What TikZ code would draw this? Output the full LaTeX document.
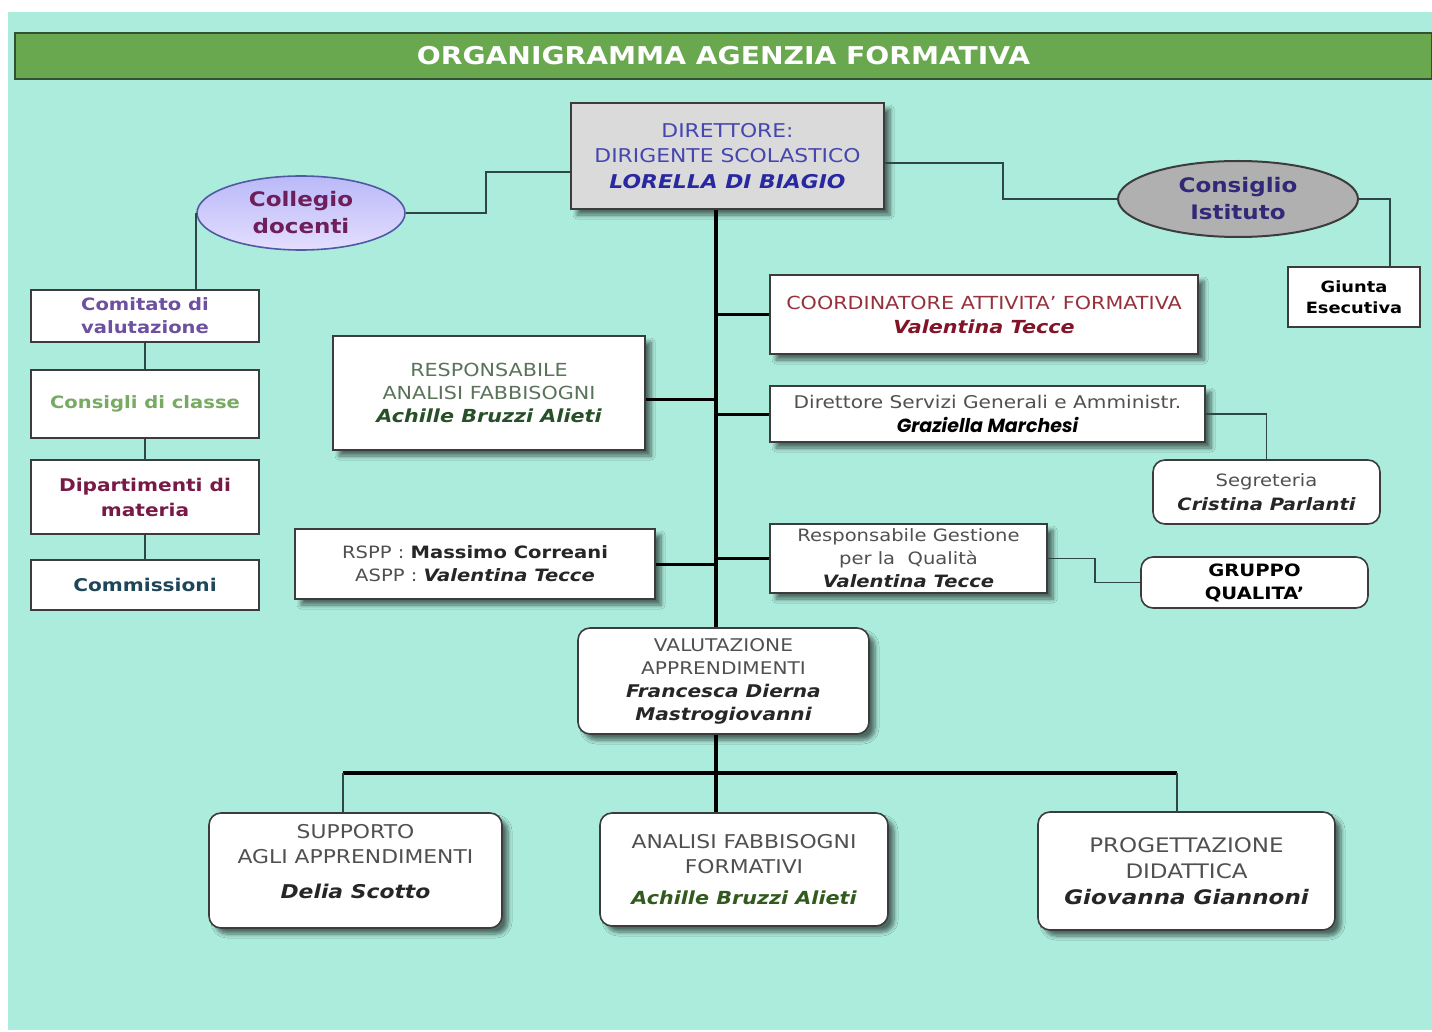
\documentclass[tikz,border=0pt]{standalone}
\usepackage{fontspec}
\setmainfont{DejaVu Sans}[FakeStretch=1.15]
\newfontfamily\popp{Poppins}
\usetikzlibrary{shadows,shadows.blur,calc,shapes.geometric}
\definecolor{bgc}{RGB}{172,236,220}
\definecolor{titlegreen}{RGB}{106,168,79}
\definecolor{titleline}{RGB}{50,80,50}
\definecolor{dirfill}{RGB}{218,218,218}
\definecolor{dirblue}{RGB}{70,70,175}
\definecolor{dirname}{RGB}{40,40,160}
\definecolor{coltop}{RGB}{185,185,248}
\definecolor{colbot}{RGB}{228,222,255}
\definecolor{colline}{RGB}{80,90,160}
\definecolor{colpurple}{RGB}{110,30,90}
\definecolor{consfill}{RGB}{176,176,176}
\definecolor{constext}{RGB}{50,40,120}
\definecolor{comtext}{RGB}{110,80,160}
\definecolor{cdctext}{RGB}{120,170,100}
\definecolor{diptext}{RGB}{120,25,70}
\definecolor{cmstext}{RGB}{30,70,90}
\definecolor{anatext}{RGB}{90,115,90}
\definecolor{ananame}{RGB}{40,80,40}
\definecolor{coordtext}{RGB}{150,50,60}
\definecolor{coordname}{RGB}{130,20,40}
\definecolor{txtgray}{RGB}{80,80,80}
\definecolor{boxline}{RGB}{60,60,60}
\definecolor{lineg}{RGB}{45,70,70}
\definecolor{greenname}{RGB}{50,90,30}
\newcommand{\fsz}[2]{\fontsize{#1}{#2}\selectfont}
\newcommand{\bi}{\bfseries\itshape}
\begin{document}
\begin{tikzpicture}[x=1pt,y=-1pt,
  box/.style={draw=boxline, line width=1.6pt, fill=white, inner sep=0pt, align=center, text=txtgray},
  rbox/.style={box, rounded corners=12pt},
  shd/.style={blur shadow={shadow xshift=6pt,shadow yshift=-6pt,shadow blur radius=4pt,shadow blur steps=6,shadow opacity=55}},
  conn/.style={draw=lineg, line width=1.8pt},
  spine/.style={draw=black, line width=4pt},
  branch/.style={draw=black, line width=3pt}]
\useasboundingbox (0,0) rectangle (1432,1032);
\fill[white] (0,0) rectangle (1432,1032);
\fill[bgc] (8,12) rectangle (1432,1030);

\node[draw=titleline, line width=2pt, fill=titlegreen, minimum width=1417pt, minimum height=46pt, inner sep=0pt, text=white, font=\bfseries\fsz{24.5}{28}] (title) at (723.5,56) {ORGANIGRAMMA AGENZIA FORMATIVA};

\node[box, fill=dirfill, shd, minimum width=313pt, minimum height=106pt, text=dirblue, font=\fsz{19}{25.5}] (dir) at (727.5,156) {DIRETTORE:\\DIRIGENTE SCOLASTICO\\{\color{dirname}\bi LORELLA DI BIAGIO}};

\node[ellipse, draw=colline, line width=1.6pt, top color=coltop, bottom color=colbot, minimum width=208pt, minimum height=74pt, inner sep=0pt, align=center, text=colpurple, font=\bfseries\fsz{20}{27}] (col) at (301,213) {Collegio\\docenti};

\node[ellipse, draw=boxline, line width=2pt, fill=consfill, minimum width=240pt, minimum height=76pt, inner sep=0pt, align=center, text=constext, font=\bfseries\fsz{20}{27}] (cons) at (1238,199) {Consiglio\\Istituto};

\node[box, minimum width=132pt, minimum height=60pt, text=black, font=\bfseries\fsz{15.5}{21}] (giu) at (1354,297) {Giunta\\Esecutiva};

\node[box, minimum width=228pt, minimum height=52pt, text=comtext, font=\bfseries\fsz{17}{23}] (com) at (145,316) {Comitato di\\valutazione};
\node[box, minimum width=228pt, minimum height=68pt, text=cdctext, font=\bfseries\fsz{17}{23}] (cdc) at (145,404) {Consigli di classe};
\node[box, minimum width=228pt, minimum height=74pt, text=diptext, font=\bfseries\fsz{17.5}{25}] (dip) at (145,497) {Dipartimenti di\\materia};
\node[box, minimum width=228pt, minimum height=50pt, text=cmstext, font=\bfseries\fsz{17.5}{23}] (cms) at (145,585) {Commissioni};

\node[box, shd, minimum width=312pt, minimum height=114pt, text=anatext, font=\fsz{18}{23}] (ana) at (489,393) {RESPONSABILE\\ANALISI FABBISOGNI\\{\color{ananame}\bi Achille Bruzzi Alieti}};

\node[box, shd, minimum width=360pt, minimum height=70pt, text=txtgray, font=\fsz{17}{23}] (rspp) at (475,564) {RSPP : {\color{black!85}\bfseries Massimo Correani}\\ASPP : {\color{black!85}\bi Valentina Tecce}};

\node[box, shd, minimum width=428pt, minimum height=79pt, text=coordtext, font=\fsz{18}{24}] (coord) at (984,314.5) {COORDINATORE ATTIVITA’ FORMATIVA\\{\color{coordname}\bi Valentina Tecce}};

\node[box, shd, minimum width=435pt, minimum height=56pt, text=txtgray, font=\fsz{17.5}{24}] (dsg) at (987.5,414) {Direttore Servizi Generali e Amministr.\\{\color{black}\popp\fsz{19}{24}\bfseries\itshape Graziella Marchesi}};

\node[rbox, minimum width=227pt, minimum height=64pt, font=\fsz{17}{24}] (seg) at (1266.5,492) {Segreteria\\{\color{black!85}\bi Cristina Parlanti}};

\node[box, shd, minimum width=277pt, minimum height=69pt, font=\fsz{17}{23}] (rgq) at (908.5,558.5) {Responsabile Gestione\\per la~ Qualità\\{\color{black!85}\bi Valentina Tecce}};

\node[rbox, minimum width=227pt, minimum height=51pt, text=black, font=\bfseries\fsz{17}{23}] (gq) at (1254.5,582.5) {GRUPPO\\QUALITA’};

\node[rbox, shd, minimum width=291pt, minimum height=106pt, font=\fsz{17.5}{23}] (val) at (723.5,681) {VALUTAZIONE\\APPRENDIMENTI\\{\color{black!85}\bi Francesca Dierna}\\{\color{black!85}\bi Mastrogiovanni}};

\node[rbox, shd, minimum width=293pt, minimum height=115pt, font=\fsz{19}{25}] (sup) at (355.5,870.5) {SUPPORTO\\AGLI APPRENDIMENTI\\[10pt]{\color{black!85}\bi Delia Scotto}\\[-6pt]\mbox{}};

\node[rbox, shd, minimum width=288pt, minimum height=113pt, font=\fsz{19}{25}] (ana2) at (744,869.5) {ANALISI FABBISOGNI\\FORMATIVI\\[6pt]{\color{greenname}\fsz{18}{25}\bi Achille Bruzzi Alieti}};

\node[rbox, shd, minimum width=297pt, minimum height=118pt, font=\fsz{20}{26}] (prog) at (1186.5,871) {PROGETTAZIONE\\DIDATTICA\\{\color{black!85}\bi Giovanna Giannoni}};

% connectors
\coordinate (sp) at (716,0);
\coordinate (barL) at (343,773);
\coordinate (barR) at (1177,773);
\draw[spine] (dir.south -| sp) -- (val.north -| sp);
\draw[spine] (val.south -| sp) -- (sp |- barL);
\draw[spine] (barL) -- (barR);
\draw[spine] (sp |- barL) -- (ana2.north -| sp);
\draw[conn] (barL) -- (barL |- sup.north);
\draw[conn] (barR) -- (barR |- prog.north);

\coordinate (anaE) at ([yshift=-6pt]ana.east);
\draw[branch] (coord.west) -- (coord.west -| sp);
\draw[branch] (anaE) -- (anaE -| sp);
\draw[branch] (dsg.west) -- (dsg.west -| sp);
\draw[branch] (rspp.east) -- (rspp.east -| sp);
\draw[branch] (rgq.west) -- (rgq.west -| sp);

\coordinate (dirW) at ([yshift=-16pt]dir.west);
\coordinate (dirE) at ([yshift=-7pt]dir.east);
\coordinate (giuT) at ([xshift=36pt]giu.north);
\draw[conn] (dirW) -- ++(-84,0) |- (col.east);
\draw[conn] (dirE) -- ++(118,0) |- (cons.west);
\draw[conn] (cons.east) -| (giuT);
\draw[conn] (col.west) -- (col.west |- com.north);
\draw[conn] (com.south) -- (cdc.north);
\draw[conn] (cdc.south) -- (dip.north);
\draw[conn] (dip.south) -- (cms.north);
\draw[conn] (dsg.east) -| (seg.north);
\draw[conn] (rgq.east) -- ++(47,0) |- (gq.west);
\end{tikzpicture}
\end{document}
